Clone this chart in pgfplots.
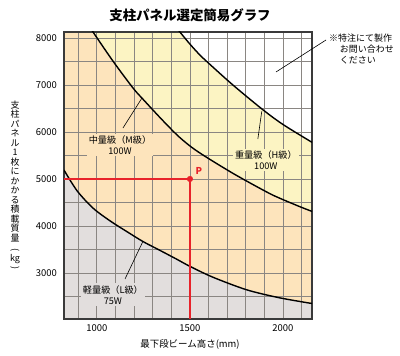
\documentclass[border=0pt]{standalone}
\usepackage{pgfplots}
\pgfplotsset{compat=1.18}
\usepgfplotslibrary{fillbetween}
\usepackage{fontspec}
\setmainfont{Noto Sans CJK JP}
\definecolor{peach}{HTML}{FDE4BC}
\definecolor{yel}{HTML}{FCF4C3}
\definecolor{lgray}{HTML}{E2DEDD}
\definecolor{gridc}{HTML}{8A8682}
\definecolor{axc}{HTML}{3A3A3A}
\definecolor{pred}{HTML}{E8222A}
\pgfplotsset{
  base/.style={
    at={(64bp,37bp)}, anchor=south west,
    scale only axis, width=248bp, height=287bp,
    xmin=823, xmax=2156, ymin=2020, ymax=8128,
    xtick={1000,1500,2000}, ytick={3000,4000,5000,6000,7000,8000},
    major tick length=0pt, minor tick length=0pt,
  }
}
\begin{document}
\begin{tikzpicture}
% ---- axis 1: region fills and tick labels
\begin{axis}[
  base,
  axis line style={draw=none},
  tick label style={font=\fontsize{9.5}{10}\selectfont},
  /pgf/number format/assume math mode=true,
  /pgf/number format/1000 sep={},
  xticklabel style={yshift=-2.5bp},
  yticklabel style={xshift=-3.5bp},
]
\addplot[name path=top, draw=none] coordinates {(800,8300) (2200,8300)};
\addplot[name path=bot, draw=none] coordinates {(800,1900) (2200,1900)};
\addplot[name path=c1, draw=none, smooth] coordinates {
(823,5190) (893,4750) (979,4380) (1070,4110) (1161,3880) (1247,3670)
(1339,3480) (1430,3290) (1500,3140) (1623,2910) (1806,2640) (1983,2470) (2156,2350)};
\addplot[name path=c2, draw=none, smooth] coordinates {
(967,8200) (979,8128) (1086,7510) (1194,6936) (1247,6700) (1355,6240) (1446,5880)
(1543,5580) (1731,5120) (1914,4720) (1983,4590) (2091,4410) (2156,4310)};
\addplot[name path=c3, draw=none, smooth] coordinates {
(1432,8200) (1446,8128) (1500,7870) (1553,7640) (1607,7440) (1731,7000)
(1890,6480) (2000,6160) (2156,5780)};
\addplot[lgray] fill between[of=c1 and bot];
\addplot[peach] fill between[of=c1 and top];
\addplot[yel] fill between[of=c2 and top];
\addplot[white] fill between[of=c3 and top];
\end{axis}
% ---- axis 2: grid, curves, annotations
\begin{axis}[
  base,
  xticklabels={}, yticklabels={},
  minor xtick={900,1100,1200,1300,1400,1600,1700,1800,1900,2100},
  minor ytick={2500,3500,4500,5500,6500,7500},
  grid=both,
  major grid style={gridc, line width=0.9bp},
  minor grid style={gridc, line width=0.9bp},
  axis line style={draw=axc, line width=1.1bp},
]
\addplot[black, line width=1.4bp, smooth] coordinates {
(823,5190) (893,4750) (979,4380) (1070,4110) (1161,3880) (1247,3670)
(1339,3480) (1430,3290) (1500,3140) (1623,2910) (1806,2640) (1983,2470) (2156,2350)};
\addplot[black, line width=1.4bp, smooth] coordinates {
(967,8200) (979,8128) (1086,7510) (1194,6936) (1247,6700) (1355,6240) (1446,5880)
(1543,5580) (1731,5120) (1914,4720) (1983,4590) (2091,4410) (2156,4310)};
\addplot[black, line width=1.4bp, smooth] coordinates {
(1432,8200) (1446,8128) (1500,7870) (1553,7640) (1607,7440) (1731,7000)
(1890,6480) (2000,6160) (2156,5780)};
% example point P
\addplot[pred, line width=1.2bp] coordinates {(823,5000) (1500,5000) (1500,2020)};
\addplot[only marks, mark=*, mark size=2.8bp, pred] coordinates {(1500,5000)};
\node[pred, font=\bfseries\fontsize{9.5}{10}\selectfont] at (axis cs:1548,5160) {P};
% leaders
\draw[black, line width=0.6bp] (axis cs:1140,6085) -- (axis cs:1242,6723);
\draw[black, line width=0.6bp] (axis cs:1865,5851) -- (axis cs:1886,6440);
\draw[black, line width=0.6bp] (axis cs:1151,2872) -- (axis cs:1247,3670);
% labels
\node[fill=peach, inner sep=2bp, align=center, font=\fontsize{9.2}{11}\selectfont] at (axis cs:1124,5723) {中量級（M級）\\100W};
\node[fill=yel, inner sep=2bp, align=center, font=\fontsize{9.2}{11}\selectfont] at (axis cs:1908,5404) {重量級（H級）\\100W};
\node[fill=lgray, inner sep=2bp, align=center, font=\fontsize{9.2}{11}\selectfont] at (axis cs:1086,2532) {軽量級（L級）\\75W};
\end{axis}
% title
\node[font=\bfseries\fontsize{13.5}{15}\selectfont] at (190bp,341bp) {支柱パネル選定簡易グラフ};
% x label
\node[font=\fontsize{9.5}{11}\selectfont] at (190bp,12bp) {最下段ビーム高さ(mm)};
% y label (vertical)
\foreach \c [count=\i] in {支,柱,パ,ネ,ル,1,枚,に,か,か,る,積,載,質,量}
  \node[font=\fontsize{9}{10}\selectfont, inner sep=0] at (15bp,{251bp-(\i-1)*9.5bp}) {\c};
\node[font=\fontsize{9}{10}\selectfont, inner sep=0, rotate=-90] at (15bp,106bp) {(};
\node[font=\fontsize{9}{10}\selectfont, inner sep=0] at (15bp,97bp) {kg};
\node[font=\fontsize{9}{10}\selectfont, inner sep=0, rotate=-90] at (15bp,88bp) {)};
% note
\draw[black, line width=0.6bp] (326bp,316bp) -- (276bp,284bp);
\node[anchor=north west, align=left, inner sep=0, font=\fontsize{9}{11}\selectfont] at (329bp,322bp) {※特注にて製作\\\hspace*{1.2em}お問い合わせ\\\hspace*{1.2em}ください};
\path (0,0) rectangle (400bp,356bp);
\end{tikzpicture}
\end{document}
